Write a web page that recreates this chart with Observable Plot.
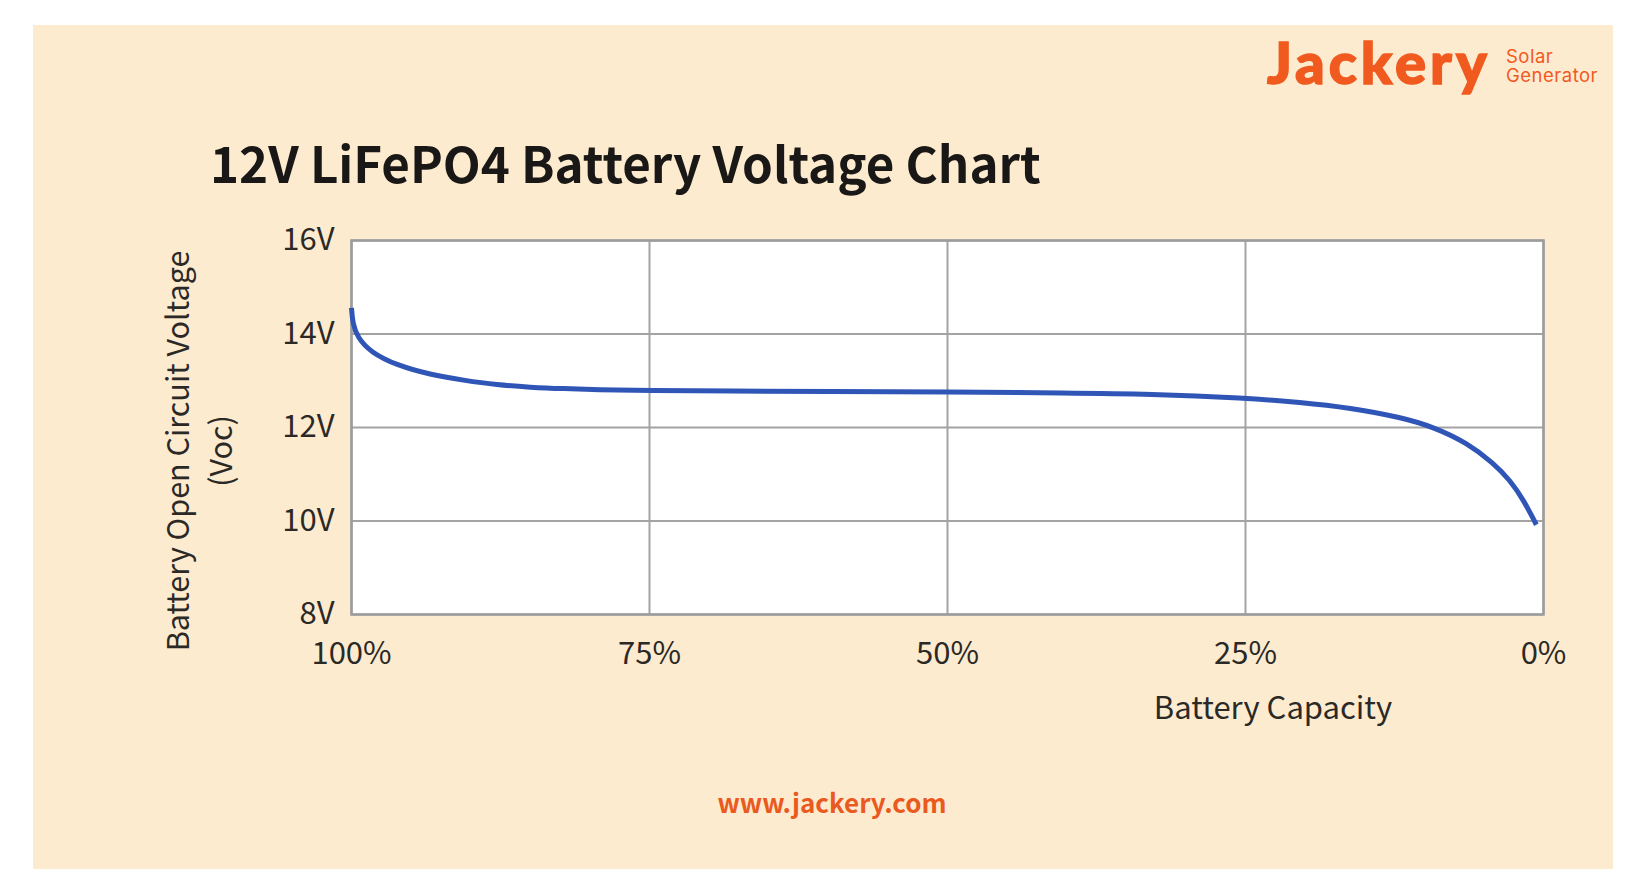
<!DOCTYPE html>
<html>
<head>
<meta charset="utf-8">
<script src="https://cdn.jsdelivr.net/npm/d3@7"></script>
<script src="https://cdn.jsdelivr.net/npm/@observablehq/plot@0.6"></script>
<style>
  html, body { margin: 0; padding: 0; background: #ffffff; }
  body { width: 1632px; height: 878px; position: relative; overflow: hidden;
         font-family: "Noto Sans CJK SC", "Noto Sans", sans-serif; }
  #panel { position: absolute; left: 33px; top: 25px; width: 1580px; height: 844px; background: #fdebd0; }
  .abs { position: absolute; white-space: nowrap; line-height: 1; }
  #title { left: 210px; top: 137px; font-size: 49.3px; font-weight: 700; color: #1a1816; }
  #brand { left: 1267px; top: 33px; font-family: Lato, Inter, sans-serif; font-size: 58px; font-weight: 900; color: #f15a1f;
           letter-spacing: 4px; -webkit-text-stroke: 1.5px #f15a1f; }
  .brand-sub { left: 1506px; height: 19px; font-family: Inter, Lato, sans-serif; font-size: 18.5px; font-weight: 400; color: #f15a1f;
               line-height: 19px; letter-spacing: 0.5px; overflow: visible; }
  #sub1 { top: 47px; }
  #sub2 { top: 66px; }
  #ylabel { left: 198px; top: 451px; font-size: 30.5px; color: #2b2926; text-align: center; line-height: 43px;
            transform: translate(-50%, -50%) rotate(-90deg); }
  #xlabel { left: 1273px; top: 690px; font-size: 31px; color: #2b2926; transform: translateX(-50%); }
  #site { left: 832px; top: 789px; font-size: 26px; font-weight: 700; color: #ea5a1e; transform: translateX(-50%); }
  #chart { position: absolute; left: 0; top: 200px; }
</style>
</head>
<body>
<div id="panel"></div>
<div id="brand" class="abs">Jackery</div>
<div id="sub1" class="abs brand-sub">Solar</div>
<div id="sub2" class="abs brand-sub">Generator</div>
<div id="title" class="abs">12V LiFePO4 Battery Voltage Chart</div>
<div id="ylabel" class="abs">Battery Open Circuit Voltage<br>(Voc)</div>
<div id="xlabel" class="abs">Battery Capacity</div>
<div id="site" class="abs">www.jackery.com</div>
<div id="chart"></div>
<script>
// Discharge curve of a 12V LiFePO4 pack: remaining capacity (%) vs open circuit voltage (V)
const capacity = [100, 99.9, 99.5, 98.4, 96.2, 93.4, 90.6, 87.8, 85, 82.2, 79.4, 75.2, 68.2, 60, 50, 40, 33, 25, 20.4, 16.2, 12, 9.2, 6.4, 4.2, 2.8, 1.65, 0.6];
const voltage  = [14.56, 14.22, 13.93, 13.61, 13.33, 13.13, 13.01, 12.91, 12.86, 12.83, 12.81, 12.79, 12.78, 12.77, 12.76, 12.74, 12.72, 12.63, 12.54, 12.42, 12.22, 12.01, 11.67, 11.24, 10.87, 10.44, 9.92];

// Axis ticks and their labels
const capacityTicks = [100, 75, 50, 25, 0];
const capacityLabels = ["100%", "75%", "50%", "25%", "0%"];
const voltageTicks = [16, 14, 12, 10, 8];
const voltageLabels = ["16V", "14V", "12V", "10V", "8V"];

const curve = capacity.map((c, i) => ({capacity: c, voltage: voltage[i]}));

const chart = Plot.plot({
  width: 1632,
  height: 534,
  marginLeft: 351,
  marginRight: 89,
  marginTop: 40,
  marginBottom: 120,
  style: {background: "transparent", fontFamily: "'Noto Sans CJK SC', 'Noto Sans', sans-serif", fontSize: "31px", color: "#2b2926"},
  x: {domain: [100, 0], ticks: capacityTicks, label: null},
  y: {domain: [8, 16], ticks: voltageTicks, label: null},
  marks: [
    Plot.frame({fill: "white", stroke: null}),
    Plot.gridX(capacityTicks, {stroke: "#a3a3a3", strokeOpacity: 1, strokeWidth: 2}),
    Plot.gridY(voltageTicks, {stroke: "#a3a3a3", strokeOpacity: 1, strokeWidth: 2}),
    Plot.frame({stroke: "#9c9c9c", strokeWidth: 2.5}),
    Plot.axisX(capacityTicks, {tickSize: 0, tickPadding: 27, fontSize: 31,
      tickFormat: d => capacityLabels[capacityTicks.indexOf(d)], label: null}),
    Plot.axisY(voltageTicks, {tickSize: 0, tickPadding: 17, fontSize: 31,
      tickFormat: d => voltageLabels[voltageTicks.indexOf(d)], label: null}),
    Plot.line(curve, {x: "capacity", y: "voltage", stroke: "#2f55b6", strokeWidth: 5,
      curve: "basis", strokeLinecap: "butt"})
  ]
});
document.getElementById("chart").appendChild(chart);
</script>
</body>
</html>
